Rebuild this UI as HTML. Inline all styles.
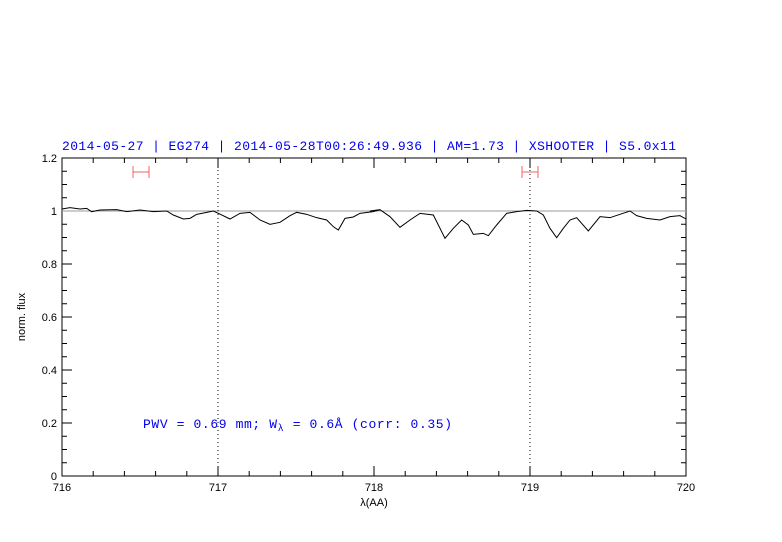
<!DOCTYPE html>
<html><head><style>body{margin:0;background:#fff}svg{display:block}</style></head><body>
<svg width="782" height="542" xmlns="http://www.w3.org/2000/svg" font-family="Liberation Sans, sans-serif">
<rect x="0" y="0" width="782" height="542" fill="#fff"/>
<text x="62" y="150" font-family="Liberation Mono, monospace" font-size="13" fill="#0000ee" textLength="614">2014-05-27 | EG274 | 2014-05-28T00:26:49.936 | AM=1.73 | XSHOOTER | S5.0x11</text>
<g stroke="#000" stroke-width="1" fill="none">
<rect x="62" y="158" width="624" height="318"/>
<g id="tk"></g>
</g>
<line x1="62" y1="211" x2="686" y2="211" stroke="#999" stroke-width="1"/>
<line x1="218" y1="158" x2="218" y2="476" stroke="#000" stroke-dasharray="1,3"/>
<line x1="530" y1="158" x2="530" y2="476" stroke="#000" stroke-dasharray="1,3"/>
<g stroke="#f06060" stroke-width="1">
<line x1="133" y1="172" x2="149" y2="172"/><line x1="133" y1="166" x2="133" y2="178"/><line x1="149" y1="166" x2="149" y2="178"/>
<line x1="522" y1="172" x2="538" y2="172"/><line x1="522" y1="166" x2="522" y2="178"/><line x1="538" y1="166" x2="538" y2="178"/>
</g>
<g transform="translate(60,195) scale(0.33333)"><polyline fill="none" stroke="#000" stroke-width="1" vector-effect="non-scaling-stroke" points="6,42 30,38 60,42 80,40 95,50 120,45 170,44 200,50 240,45 280,50 320,48 340,60 370,72 390,70 410,58 440,52 460,48 475,55 510,72 540,55 570,52 600,75 630,88 660,82 690,62 710,52 740,58 770,68 800,75 820,95 835,105 855,70 880,66 900,55 940,50 960,44"/></g>
<g transform="translate(370,195) scale(0.33333)"><polyline fill="none" stroke="#000" stroke-width="1" vector-effect="non-scaling-stroke" points="0,48 30,44 60,65 90,97 120,75 150,55 190,60 225,130 250,100 275,75 295,90 310,118 340,115 355,122 380,90 410,55 440,50 470,46 500,48 520,60 540,100 560,128 580,100 600,75 620,68 655,108 690,65 720,68 750,58 780,48 800,62 830,70 870,75 900,65 930,62 948,72"/></g>
<g font-size="11" fill="#000" text-anchor="end" id="yl"></g>
<g font-size="11" fill="#000" text-anchor="middle" id="xl"></g>
<text x="143" y="428" font-family="Liberation Mono, monospace" font-size="13" fill="#0000ee" textLength="309" lengthAdjust="spacing">PWV = 0.69 mm; W<tspan font-size="10" dy="3">λ</tspan><tspan dy="-3"> = 0.6Å (corr: 0.35)</tspan></text>
<text x="374" y="506" font-size="11" text-anchor="middle">λ(AA)</text>
<text transform="translate(25,317) rotate(-90)" font-size="11" text-anchor="middle">norm. flux</text>
<script>
var ns="http://www.w3.org/2000/svg",tk=document.getElementById("tk"),yl=document.getElementById("yl"),xl=document.getElementById("xl");
function L(a,b,c,d){var l=document.createElementNS(ns,"line");l.setAttribute("x1",a);l.setAttribute("y1",b);l.setAttribute("x2",c);l.setAttribute("y2",d);tk.appendChild(l);}
function T(g,x,y,s){var t=document.createElementNS(ns,"text");t.setAttribute("x",x);t.setAttribute("y",y);t.textContent=s;g.appendChild(t);}
for(var i=0;i<=20;i++){var x=62+i*31.2,m=i%5==0,h=m?10:5;L(x,476,x,476-h);L(x,158,x,158+h);if(m)T(xl,x,491,716+i/5);}
for(var j=0;j<=24;j++){var y=476-j*13.25,m=j%4==0,h=m?10:5;L(62,y,62+h,y);L(686,y,686-h,y);if(m){var v=j/20;T(yl,57,y+4,v==0?"0":(v==1?"1":String(+v.toFixed(1))));}}
</script>
</svg>
</body></html>
